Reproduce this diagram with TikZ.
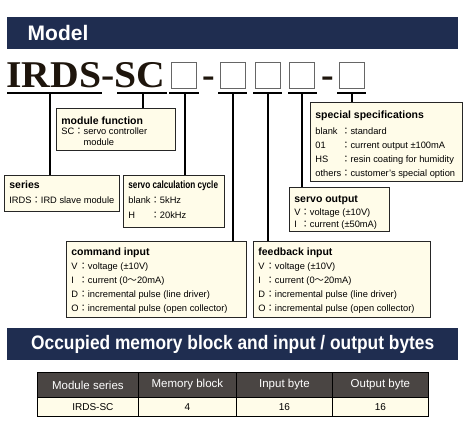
\documentclass[tikz,border=0pt]{standalone}
\usepackage{fontspec}
\setmainfont{Liberation Sans}
\newfontfamily\cjkfont{Noto Sans CJK JP}
\newfontfamily\codefont{Liberation Serif}
\usepackage{array}
\usepackage{graphicx}
\definecolor{navy}{HTML}{1F2D50}
\definecolor{cream}{HTML}{FFFCE9}
\definecolor{hdrgray}{HTML}{4A4543}
\definecolor{codeink}{HTML}{1E150C}
\newcommand{\fc}{{\cjkfont ：}}
\newcommand{\fw}{{\cjkfont ～}}
\newcommand{\ttl}[1]{{\fontsize{10.5}{14}\selectfont\bfseries #1}}
% width, height, top gap, baselineskip, content
\newcommand{\boxtext}[5]{\parbox[c][#2][t]{#1}{\fontsize{9.3}{#4}\selectfont\vspace*{#3}\hspace*{5pt}#5}}
\begin{document}
\begin{tikzpicture}[x=1pt,y=-1pt]
\tikzset{
  box/.style={draw=black!85, line width=0.8pt, fill=cream, anchor=north west, inner sep=0pt},
  conn/.style={line width=1.8pt, black},
  uline/.style={line width=1.8pt, black},
  sq/.style={draw=black!60, line width=0.7pt, fill=white, minimum width=25pt, minimum height=26pt, inner sep=0pt},
  codetxt/.style={inner sep=0pt, text=codeink, font=\fontsize{37.8}{40}\selectfont\codefont\bfseries},
  banner/.style={fill=navy, text=white, anchor=north west, minimum width=451pt, minimum height=32pt, inner ysep=0pt},
  hcell/.style={draw=black, line width=0.8pt, fill=hdrgray, text=white, anchor=north west, minimum height=25pt, inner sep=0pt, font=\fontsize{11.5}{14}\selectfont},
  dcell/.style={draw=black, line width=0.8pt, fill=cream, anchor=north west, minimum height=19pt, inner sep=0pt, font=\fontsize{10}{12}\selectfont},
}
\useasboundingbox (0,0) rectangle (470,432);

% banner 1
\node[banner, inner xsep=20.5pt, text width=410pt, align=left, font=\fontsize{21}{24}\selectfont\bfseries] (bn1) at (7,17) {Model};

% model code
\node[codetxt, anchor=base west] (code) at (6.3,87.3) {\scalebox{1.05}[1]{IRDS-SC}};
\node[sq] (s1) at (183.5,75) {};
\node[codetxt, anchor=base] (h1) at (208.5,87.3) {-};
\node[sq] (s2) at (232.5,75) {};
\node[sq] (s3) at (268,75) {};
\node[sq] (s4) at (302,75) {};
\node[codetxt, anchor=base] (h2) at (327.5,87.3) {-};
\node[sq] (s5) at (351.5,75) {};

% underlines
\coordinate (u1a) at (7,93);   \coordinate (u1b) at (102,93);
\coordinate (u2a) at (117,93); \coordinate (u2b) at (167,93);
\coordinate (u3a) at (169,93); \coordinate (u3b) at (199,93);
\coordinate (u4a) at (218,93); \coordinate (u4b) at (247,93);
\coordinate (u5a) at (253,93); \coordinate (u5b) at (282,93);
\coordinate (u6a) at (288,93); \coordinate (u6b) at (317,93);
\coordinate (u7a) at (337,93); \coordinate (u7b) at (366,93);
\foreach \i in {1,...,7} {\draw[uline] (u\i a) -- (u\i b);}

\coordinate (t1) at (50,93);
\coordinate (t2) at (143,93);
\coordinate (t3) at (185,93);
\coordinate (t4) at (233,93);
\coordinate (t5) at (268,93);
\coordinate (t6) at (302,93);
\coordinate (t7) at (352,93);

% boxes
\node[box] (modfun) at (56,108) {\boxtext{119pt}{42pt}{8pt}{10.8pt}{%
  \begin{tabular}[t]{@{}l@{}l@{}}
  \multicolumn{2}{@{}l@{}}{\ttl{module function}}\\
  SC\fc\ & servo controller\\
   & module
  \end{tabular}}};

\node[box] (series) at (4,175) {\boxtext{115pt}{36pt}{3pt}{15pt}{%
  \begin{tabular}[t]{@{}l@{}}
  \ttl{series}\\
  IRDS\fc IRD slave module
  \end{tabular}}};

\node[box] (calc) at (123,175) {\boxtext{101pt}{52pt}{3pt}{15pt}{%
  \begin{tabular}[t]{@{}l@{}l@{}l@{}}
  \multicolumn{3}{@{}l@{}}{\scalebox{0.78}[1]{\ttl{servo calculation cycle}}}\\
  blank & \fc & 5kHz\\
  H & \fc & 20kHz
  \end{tabular}}};

\node[box] (spec) at (310,102) {\boxtext{152pt}{79pt}{6.7pt}{14pt}{%
  \begin{tabular}[t]{@{}l@{}l@{}l@{}}
  \multicolumn{3}{@{}l@{}}{\ttl{special specifications}}\\[1.5pt]
  blank & \fc & standard\\
  01 & \fc & current output ±100mA\\
  HS & \fc & resin coating for humidity\\
  others & \fc & customer's special option
  \end{tabular}}};

\node[box] (sout) at (289,187) {\boxtext{100pt}{44pt}{6.7pt}{12.5pt}{%
  \begin{tabular}[t]{@{}l@{}l@{}l@{}}
  \multicolumn{3}{@{}l@{}}{\ttl{servo output}}\\
  V & \fc & voltage (±10V)\\
  I & \fc & current (±50mA)
  \end{tabular}}};

\node[box] (cmd) at (66,241) {\boxtext{180pt}{76pt}{4.2pt}{14pt}{%
  \begin{tabular}[t]{@{}l@{}l@{}l@{}}
  \multicolumn{3}{@{}l@{}}{\ttl{command input}}\\
  V & \fc & voltage (±10V)\\
  I & \fc & current (0\fw 20mA)\\
  D & \fc & incremental pulse (line driver)\\
  O & \fc & incremental pulse (open collector)
  \end{tabular}}};

\node[box] (fb) at (253,241) {\boxtext{177pt}{76pt}{4.2pt}{14pt}{%
  \begin{tabular}[t]{@{}l@{}l@{}l@{}}
  \multicolumn{3}{@{}l@{}}{\ttl{feedback input}}\\
  V & \fc & voltage (±10V)\\
  I & \fc & current (0\fw 20mA)\\
  D & \fc & incremental pulse (line driver)\\
  O & \fc & incremental pulse (open collector)
  \end{tabular}}};

% connectors
\draw[conn] (t1) -- (t1 |- series.north);
\draw[conn] (t2) -- (t2 |- modfun.north);
\draw[conn] (t3) -- (t3 |- calc.north);
\draw[conn] (t4) -- (t4 |- cmd.north);
\draw[conn] (t5) -- (t5 |- fb.north);
\draw[conn] (t6) -- (t6 |- sout.north);
\draw[conn] (t7) -- (t7 |- spec.north);

% banner 2
\node[banner, inner xsep=0pt, font=\fontsize{19.5}{22}\selectfont\bfseries] (bn2) at (7,328) {\scalebox{0.89}[1]{Occupied memory block and input / output bytes}};

% table
\node[hcell, minimum width=101pt] (th1) at (37,372) {Module series};
\node[hcell, minimum width=98pt] (th2) at (138,372) {Memory block};
\node[hcell, minimum width=96pt] (th3) at (236,372) {Input byte};
\node[hcell, minimum width=96pt] (th4) at (332,372) {Output byte};
\node[dcell, minimum width=101pt] (td1) at (37,397) {\hspace*{10pt}IRDS-SC};
\node[dcell, minimum width=98pt] (td2) at (138,397) {4};
\node[dcell, minimum width=96pt] (td3) at (236,397) {16};
\node[dcell, minimum width=96pt] (td4) at (332,397) {16};
\end{tikzpicture}
\end{document}
